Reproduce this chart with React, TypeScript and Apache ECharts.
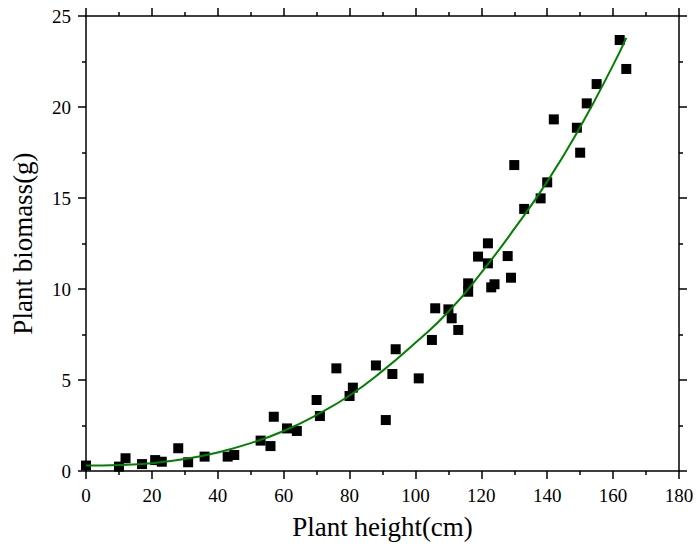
import React, { useEffect, useRef } from "react";
import * as echarts from "echarts";

const xTicks = [0, 20, 40, 60, 80, 100, 120, 140, 160, 180];
const yTicks = [0, 5, 10, 15, 20, 25];

const heights = [
  0, 10, 12, 17, 21, 23, 28, 31, 36, 43, 45, 53, 56, 57, 61, 64, 70, 71, 76, 80,
  81, 88, 91, 93, 94, 101, 105, 106, 110, 111, 113, 116, 116, 119, 122, 122, 123,
  124, 128, 129, 130, 133, 138, 140, 142, 149, 150, 152, 155, 162, 164,
];
const biomass = [
  0.3, 0.24, 0.7, 0.38, 0.6, 0.51, 1.25, 0.48, 0.79, 0.79, 0.88, 1.67, 1.37, 2.98,
  2.34, 2.2, 3.9, 3.02, 5.64, 4.12, 4.58, 5.8, 2.8, 5.33, 6.69, 5.09, 7.2, 8.94,
  8.88, 8.39, 7.75, 10.31, 9.85, 11.78, 12.51, 11.41, 10.09, 10.26, 11.81, 10.62,
  16.81, 14.4, 14.98, 15.86, 19.32, 18.86, 17.49, 20.2, 21.26, 23.68, 22.09,
];

const fitX = [0, 10, 20, 30, 40, 50, 60, 70, 80, 90, 100, 110, 120, 130, 140, 150, 160, 164];
const fitY = [0.3, 0.33, 0.43, 0.66, 1.02, 1.53, 2.2, 3.08, 4.15, 5.5, 7.05, 8.75, 10.9, 13.3, 15.9, 18.9, 22.3, 23.8];

const FONT = "'Times New Roman', 'Liberation Serif', serif";

export default function App() {
  const ref = useRef<HTMLDivElement>(null);

  useEffect(() => {
    document.body.style.margin = "0";
    if (!ref.current) return;
    const chart = echarts.init(ref.current, undefined, { renderer: "svg" });

    const lineStyle = { color: "#000", width: 1.5 };
    const baseAxis = (isX: boolean, mirror: boolean) => ({
      type: "value",
      min: 0,
      max: isX ? xTicks[xTicks.length - 1] : yTicks[yTicks.length - 1],
      interval: isX ? xTicks[1] - xTicks[0] : yTicks[1] - yTicks[0],
      axisLine: { show: true, onZero: false, lineStyle },
      axisTick: { show: true, inside: false, length: 8, lineStyle },
      minorTick: { show: true, splitNumber: 2, length: 4, lineStyle },
      splitLine: { show: false },
      minorSplitLine: { show: false },
      axisLabel: {
        show: !mirror,
        fontSize: 19,
        color: "#000",
        fontFamily: FONT,
        margin: 15,
      },
    });

    chart.setOption({
      animation: false,
      backgroundColor: "#fff",
      grid: { left: 86, right: 19, top: 16, bottom: 80, containLabel: false },
      xAxis: [
        {
          ...baseAxis(true, false),
          position: "bottom",
          name: "Plant height(cm)",
          nameLocation: "middle",
          nameGap: 42,
          nameTextStyle: { fontSize: 27, color: "#000", fontFamily: FONT },
        },
        { ...baseAxis(true, true), position: "top" },
      ],
      yAxis: [
        {
          ...baseAxis(false, false),
          position: "left",
          name: "Plant biomass(g)",
          nameLocation: "middle",
          nameGap: 50,
          nameTextStyle: { fontSize: 27, color: "#000", fontFamily: FONT },
        },
        { ...baseAxis(false, true), position: "right" },
      ],
      series: [
        {
          type: "scatter",
          xAxisIndex: 0,
          yAxisIndex: 0,
          symbol: "rect",
          symbolSize: 10,
          itemStyle: { color: "#000", opacity: 1 },
          data: heights.map((h, i) => [h, biomass[i]]),
          z: 2,
        },
        {
          type: "line",
          xAxisIndex: 0,
          yAxisIndex: 0,
          smooth: true,
          showSymbol: false,
          symbol: "none",
          lineStyle: { color: "#008000", width: 2 },
          data: fitX.map((x, i) => [x, fitY[i]]),
          z: 3,
        },
      ],
    });

    return () => chart.dispose();
  }, []);

  return <div ref={ref} style={{ width: 698, height: 551 }} />;
}
